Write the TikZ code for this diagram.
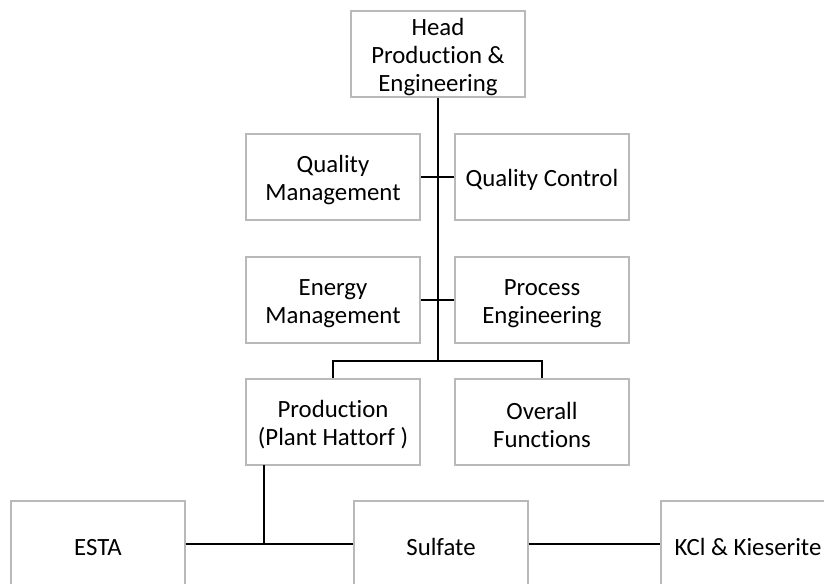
\documentclass[tikz,border=0pt]{standalone}
\usepackage{fontspec}
\setmainfont[Ligatures=NoCommon]{Carlito}
\usepackage{xcolor}
\usetikzlibrary{shadows}

\begin{document}
\begin{tikzpicture}[
  x=0.75pt, y=-0.75pt,
  unit/.style={rectangle,draw=gray!55,fill=white,line width=0.8pt,
    minimum width=130.5pt,minimum height=64.5pt,
    text width=128pt,align=flush center,inner sep=0pt,
    execute at begin node={\rule{0pt}{17pt}},
    drop shadow={opacity=0.18,shadow xshift=0.8pt,shadow yshift=-0.8pt}},
  link/.style={draw,line width=2.2pt},
  font=\fontsize{18.6}{21}\selectfont
]
\useasboundingbox (0,0) rectangle (824,584);

% Head
\node[unit] at (438, 54) (head) {Head\\Production \&\\Engineering};

% Staff units
\node[unit] at (333, 177) (qm) {Quality\\Management};
\node[unit] at (542, 177) (qc) {Quality Control};
\node[unit] at (333, 300) (em) {Energy\\Management};
\node[unit] at (542, 300) (pe) {Process\\Engineering};

% Line units
\node[unit] at (333, 422) (prod) {Production\\(Plant Hattorf )};
\node[unit] at (542, 422) (overall) {Overall\\Functions};

% Plants
\node[unit] at (98, 544) (esta) {ESTA};
\node[unit] at (441, 544) (sulfate) {Sulfate};
\node[unit] at (748, 544) (kcl) {KCl \& Kieserite};

\coordinate (split) at (438, 361);
\coordinate (tap) at (264, 465);

% Connectors
\draw[link] (head.south) -- (split);
\draw[link] (qm.east) -- (qc.west);
\draw[link] (em.east) -- (pe.west);
\draw[link] (prod.north) |- (split) -| (overall.north);
\draw[link] (esta.east) -- (sulfate.west);
\draw[link] (sulfate.east) -- (kcl.west);
\draw[link] (tap) -- (tap |- sulfate.west);

\end{tikzpicture}
\end{document}
